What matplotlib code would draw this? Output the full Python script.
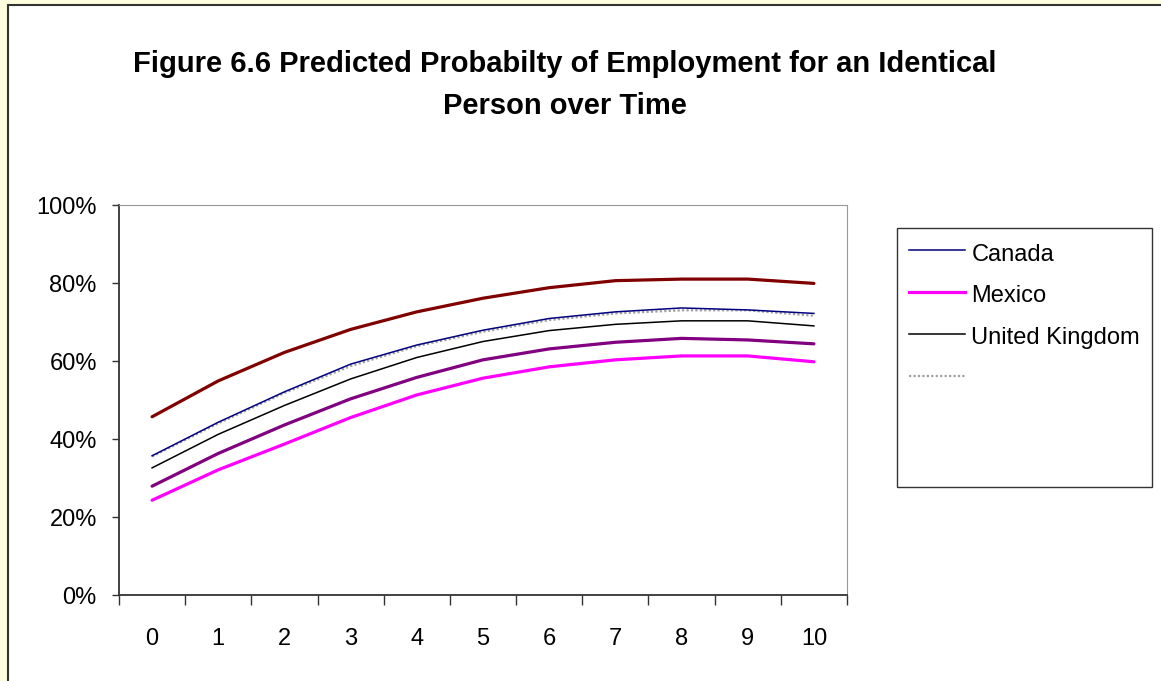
import matplotlib
matplotlib.use("Agg")
import matplotlib.pyplot as plt
from matplotlib.lines import Line2D
from matplotlib.patches import Rectangle
import numpy as np

plt.rcParams['font.family'] = ['Liberation Sans', 'DejaVu Sans']

# 数据
years = [0, 1, 2, 3, 4, 5, 6, 7, 8, 9, 10]
canada = [35.7, 44.3, 52.1, 59.2, 64.1, 67.9, 70.9, 72.6, 73.6, 73.1, 72.2]
mexico = [24.3, 32.1, 38.7, 45.5, 51.3, 55.6, 58.5, 60.3, 61.3, 61.3, 59.8]
united_kingdom = [32.6, 41.2, 48.6, 55.4, 60.9, 65.0, 67.8, 69.4, 70.3, 70.3, 69.0]
unlabeled_gray = [35.5, 44.0, 51.8, 58.7, 63.8, 67.5, 70.5, 72.2, 73.0, 73.0, 71.6]
unlabeled_red = [45.7, 54.9, 62.2, 68.1, 72.6, 76.1, 78.8, 80.6, 81.0, 81.0, 79.9]
unlabeled_purple = [27.9, 36.3, 43.6, 50.3, 55.8, 60.3, 63.1, 64.8, 65.8, 65.4, 64.4]
y_ticks = [0, 20, 40, 60, 80, 100]
y_labels = ['0%', '20%', '40%', '60%', '80%', '100%']
legend_labels = ['Canada', 'Mexico', 'United Kingdom', '', '', '']

W, H = 1161, 681
fig = plt.figure(figsize=(W / 100, H / 100), dpi=100)
fig.patch.set_facecolor('#FFFFE0')

# 白色图表区域（放在坐标轴下面）
fig.patches.append(Rectangle((8 / W, -0.01), 1.0, 1.01 - 5 / H, transform=fig.transFigure,
                             facecolor='white', edgecolor='#333333', linewidth=1.5, zorder=-10))

ax = fig.add_axes([119 / W, 1 - 595 / H, 728 / W, 390 / H])
ax.set_facecolor('white')

x = np.array(years)
ax.plot(x, unlabeled_red, color='#800000', lw=2.3, solid_capstyle='round')
ax.plot(x, unlabeled_gray, color='#A0A0A0', lw=1.6, linestyle=(0, (1, 1)))
ax.plot(x, canada, color='#000080', lw=1.1)
ax.plot(x, united_kingdom, color='black', lw=1.1)
ax.plot(x, unlabeled_purple, color='#800080', lw=2.3, solid_capstyle='round')
ax.plot(x, mexico, color='#FF00FF', lw=2.3, solid_capstyle='round')

ax.set_xlim(-0.5, 10.5)
ax.set_ylim(0, 100)

# x轴：刻度线在类别边界，标签在类别中心
ax.set_xticks(np.arange(-0.5, 11, 1))
ax.set_xticklabels([])
ax.set_xticks(x, minor=True)
ax.set_xticklabels([str(v) for v in years], minor=True, fontsize=17)
ax.tick_params(axis='x', which='major', direction='out', length=7, width=1, color='#333333')
ax.tick_params(axis='x', which='minor', length=0, pad=24)

ax.set_yticks(y_ticks)
ax.set_yticklabels(y_labels, fontsize=17)
ax.tick_params(axis='y', direction='out', length=5, width=1, color='#333333', pad=11)

ax.spines['left'].set_color('#333333')
ax.spines['bottom'].set_color('#333333')
ax.spines['left'].set_linewidth(1.3)
ax.spines['bottom'].set_linewidth(1.3)
ax.spines['top'].set_color('#999999')
ax.spines['right'].set_color('#999999')

fig.text(565 / W, 1 - 85 / H,
         'Figure 6.6 Predicted Probabilty of Employment for an Identical\nPerson over Time',
         ha='center', va='center', fontsize=21, fontweight='bold', linespacing=1.65)

handles = [Line2D([], [], color='#000080', lw=1.1),
           Line2D([], [], color='#FF00FF', lw=2.3),
           Line2D([], [], color='black', lw=1.1),
           Line2D([], [], color='#A0A0A0', lw=1.6, linestyle=(0, (1, 1))),
           Line2D([], [], color='none'),
           Line2D([], [], color='none')]
leg = fig.legend(handles, legend_labels, loc='upper left',
                 bbox_to_anchor=(897 / W, 1 - 228 / H), bbox_transform=fig.transFigure,
                 fontsize=17, frameon=True, fancybox=False, borderaxespad=0,
                 handlelength=2.4, handletextpad=0.25, handleheight=1.3,
                 labelspacing=0.68, borderpad=0.5)
leg.get_frame().set_edgecolor('black')
leg.get_frame().set_linewidth(1)

plt.savefig('out.png', dpi=100)
